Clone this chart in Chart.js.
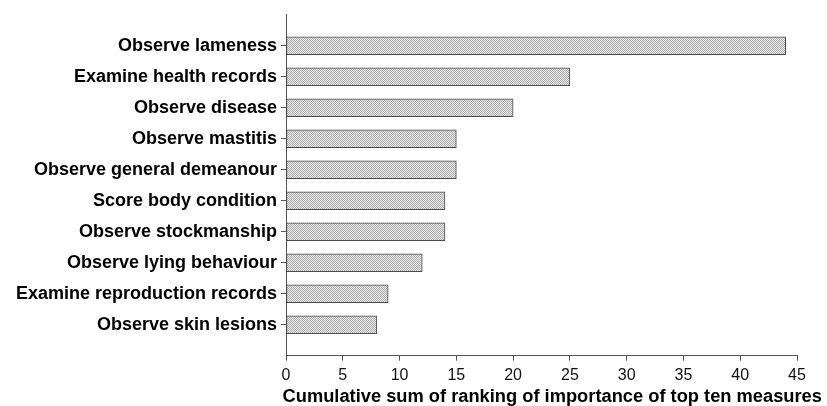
<!DOCTYPE html>
<html>
<head>
<meta charset="utf-8">
<script src="https://cdn.jsdelivr.net/npm/chart.js@4.4.0/dist/chart.umd.min.js"></script>
<style>
  html, body { margin: 0; padding: 0; background: #fff; }
  #wrap { width: 827px; height: 406px; }
</style>
</head>
<body>
<div id="wrap"><canvas id="chart"></canvas></div>
<script>
const measures = [
    'Observe lameness',
    'Examine health records',
    'Observe disease',
    'Observe mastitis',
    'Observe general demeanour',
    'Score body condition',
    'Observe stockmanship',
    'Observe lying behaviour',
    'Examine reproduction records',
    'Observe skin lesions'
];
const rankingSum = [44, 25, 20, 15, 15, 14, 14, 12, 9, 8];
const xTicks = [0, 5, 10, 15, 20, 25, 30, 35, 40, 45];
const xTitle = 'Cumulative sum of ranking of importance of top ten measures';

// halftone-ish grey fill like the scanned bars
function makePattern() {
    const c = document.createElement('canvas');
    c.width = 2;
    c.height = 2;
    const g = c.getContext('2d');
    g.fillStyle = '#ececec';
    g.fillRect(0, 0, 2, 2);
    g.fillStyle = '#aaaaaa';
    g.fillRect(0, 0, 1, 1);
    g.fillRect(1, 1, 1, 1);
    return g.createPattern(c, 'repeat');
}

const ctx = document.getElementById('chart').getContext('2d');
new Chart(ctx, {
    type: 'bar',
    data: {
        datasets: [{
            data: rankingSum.map(function(v, i) { return { x: v, y: i }; }),
            backgroundColor: makePattern(),
            borderColor: '#4a4a4a',
            borderWidth: 1,
            borderSkipped: false,
            barThickness: 18
        }]
    },
    options: {
        indexAxis: 'y',
        responsive: true,
        maintainAspectRatio: false,
        animation: false,
        layout: { padding: { top: 13, right: 0, bottom: 0, left: 0 } },
        plugins: {
            legend: { display: false },
            tooltip: { enabled: false },
            // axis title as chart title so it can run past the plot's right edge
            title: {
                display: true,
                position: 'bottom',
                align: 'end',
                text: xTitle + '\u00a0',
                color: '#000',
                padding: { top: 0, bottom: 0 },
                font: { family: 'Liberation Sans, Arial, sans-serif', size: 18.3, weight: 'bold', lineHeight: 1 }
            }
        },
        scales: {
            x: {
                type: 'linear',
                min: 0,
                max: 45,
                afterBuildTicks: function(scale) {
                    scale.ticks = xTicks.map(function(v) { return { value: v }; });
                },
                grid: {
                    drawOnChartArea: false,
                    color: '#555',
                    tickLength: 5
                },
                border: { color: '#555', width: 1 },
                ticks: {
                    color: '#111',
                    padding: 5,
                    maxRotation: 0,
                    font: { family: 'Liberation Sans, Arial, sans-serif', size: 16 }
                },
                afterFit: function(scale) { scale.height = 32; }
            },
            y: {
                type: 'linear',
                reverse: true,
                offset: false,
                min: -1,
                max: 10,
                afterBuildTicks: function(scale) {
                    scale.ticks = measures.map(function(m, i) { return { value: i }; });
                },
                grid: {
                    offset: false,
                    drawOnChartArea: false,
                    color: '#555',
                    tickLength: 5
                },
                border: { color: '#555', width: 1 },
                ticks: {
                    color: '#000',
                    padding: 4,
                    autoSkip: false,
                    callback: function(value) { return measures[value]; },
                    font: { family: 'Liberation Sans, Arial, sans-serif', size: 18, weight: 'bold' }
                },
                afterFit: function(scale) { scale.width = 286; }
            },
            // empty spacer on the right so the plot ends at 45 while the title runs on
            spacer: {
                type: 'linear',
                axis: 'y',
                position: 'right',
                grid: { display: false },
                border: { display: false },
                ticks: { display: false },
                afterFit: function(scale) { scale.width = 30; }
            }
        }
    }
});
</script>
</body>
</html>
